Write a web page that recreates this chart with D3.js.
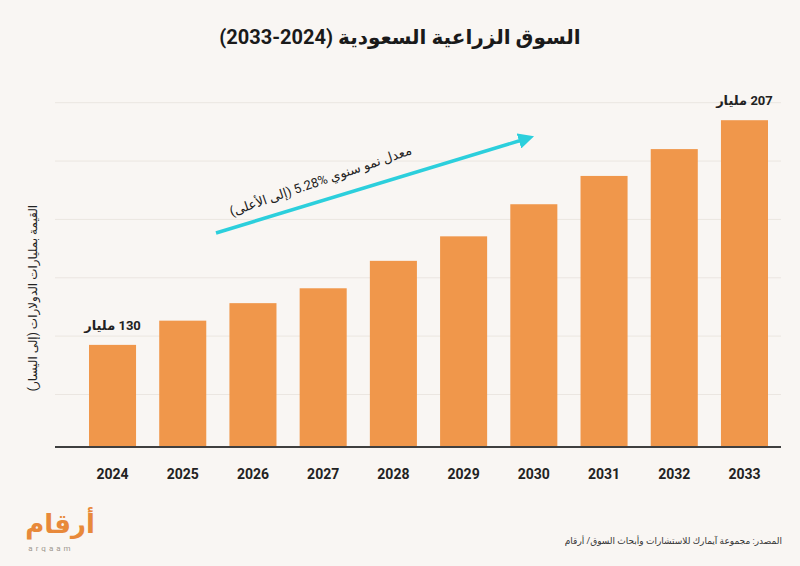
<!DOCTYPE html>
<html>
<head>
<meta charset="utf-8">
<script src="https://cdn.jsdelivr.net/npm/d3@7"></script>
<style>
  body { margin: 0; background: #f9f6f3; }
  svg { display: block; font-family: Roboto, "DejaVu Sans", sans-serif; }
</style>
</head>
<body>
<svg id="chart" width="800" height="566"></svg>
<script>
const years = ["2024", "2025", "2026", "2027", "2028", "2029", "2030", "2031", "2032", "2033"];
const values = [130, 138.3, 144.3, 149.4, 158.8, 167.2, 178.2, 187.9, 197.1, 207];
const gridValues = [113, 133, 153, 173, 193, 213];
const labelled = { "2024": "130 مليار", "2033": "207 مليار" };

// LRI ... PDI keep the numbers in left-to-right order inside the Arabic lines
const titleText = "السوق الزراعية السعودية \u2066(2033-2024)\u2069";
const yTitle = "القيمة بمليارات الدولارات (إلى اليسار)";
const growthText = "معدل نمو سنوي \u20665.28%\u2069 (إلى الأعلى)";
const sourceText = "المصدر: مجموعة آيمارك للاستشارات وأبحاث السوق/ أرقام";

const width = 800, height = 566;
const svg = d3.select("#chart");

svg.append("rect")
    .attr("width", width)
    .attr("height", height)
    .attr("fill", "#f9f6f3");

const x = d3.scaleBand()
    .domain(years)
    .range([89, 768])
    .paddingInner(0.33)
    .paddingOuter(0);

const y = d3.scaleLinear()
    .domain([95, 213])
    .range([447, 102.7]);

// light gridlines
svg.selectAll(".grid")
   .data(gridValues)
   .enter().append("line")
   .attr("class", "grid")
   .attr("x1", 55)
   .attr("x2", 781)
   .attr("y1", d => y(d))
   .attr("y2", d => y(d))
   .style("stroke", "#ebe6e1")
   .style("stroke-width", 1);

// bars
svg.selectAll(".bar")
   .data(years)
   .enter().append("rect")
   .attr("class", "bar")
   .attr("x", d => x(d))
   .attr("width", x.bandwidth())
   .attr("y", (d, i) => y(values[i]))
   .attr("height", (d, i) => y(95) - y(values[i]))
   .style("fill", "#f0974b");

// baseline
svg.append("line")
   .attr("x1", 55)
   .attr("x2", 781)
   .attr("y1", y(95))
   .attr("y2", y(95))
   .style("stroke", "#3f3f3f")
   .style("stroke-width", 2);

// x axis labels
const xAxis = svg.append("g")
    .attr("transform", `translate(0,${y(95)})`)
    .call(d3.axisBottom(x).tickSize(0).tickPadding(22));
xAxis.select(".domain").remove();
xAxis.selectAll("text")
    .style("font-family", "Roboto, 'DejaVu Sans', sans-serif")
    .style("font-size", "14px")
    .style("font-weight", "bold")
    .style("fill", "#222");

// value labels on first and last bar
svg.selectAll(".vlabel")
   .data(years.filter(d => labelled[d]))
   .enter().append("text")
   .attr("class", "vlabel")
   .attr("x", d => x(d) + x.bandwidth() / 2)
   .attr("y", d => y(values[years.indexOf(d)]) - 15)
   .attr("direction", "rtl")
   .style("text-anchor", "middle")
   .style("font-size", "13px")
   .style("font-weight", "bold")
   .style("fill", "#222")
   .text(d => labelled[d]);

// title
svg.append("text")
   .attr("x", 400)
   .attr("y", 44)
   .attr("direction", "rtl")
   .style("text-anchor", "middle")
   .style("font-size", "20px")
   .style("font-weight", "bold")
   .style("fill", "#1a1a1a")
   .text(titleText);

// y axis title
svg.append("text")
   .attr("transform", "translate(37,298) rotate(-90)")
   .attr("direction", "rtl")
   .style("text-anchor", "middle")
   .style("font-size", "12px")
   .style("fill", "#222")
   .text(yTitle);

// growth arrow
svg.append("defs").append("marker")
   .attr("id", "head")
   .attr("viewBox", "0 0 10 10")
   .attr("refX", 2)
   .attr("refY", 5)
   .attr("markerWidth", 4.5)
   .attr("markerHeight", 4.5)
   .attr("orient", "auto")
   .append("path")
   .attr("d", "M0,0L10,5L0,10z")
   .style("fill", "#2ccfdc");

svg.append("line")
   .attr("x1", 216)
   .attr("y1", 233)
   .attr("x2", 522)
   .attr("y2", 140)
   .attr("marker-end", "url(#head)")
   .style("stroke", "#2ccfdc")
   .style("stroke-width", 3.5);

svg.append("text")
   .attr("transform", "translate(322,185) rotate(-19)")
   .attr("direction", "rtl")
   .style("text-anchor", "middle")
   .style("font-size", "13px")
   .style("fill", "#222")
   .text(growthText);

// source
svg.append("text")
   .attr("x", 782)
   .attr("y", 544)
   .attr("direction", "rtl")
   .style("text-anchor", "start")
   .style("font-size", "9px")
   .style("fill", "#333")
   .text(sourceText);

// logo
svg.append("text")
   .attr("x", 60)
   .attr("y", 533)
   .attr("direction", "rtl")
   .style("text-anchor", "middle")
   .style("font-size", "26px")
   .style("font-weight", "bold")
   .style("fill", "#e8893a")
   .text("أرقام");

svg.append("text")
   .attr("x", 51)
   .attr("y", 551)
   .style("text-anchor", "middle")
   .style("font-size", "8px")
   .style("letter-spacing", "3px")
   .style("fill", "#a09890")
   .text("arqaam");
</script>
</body>
</html>
